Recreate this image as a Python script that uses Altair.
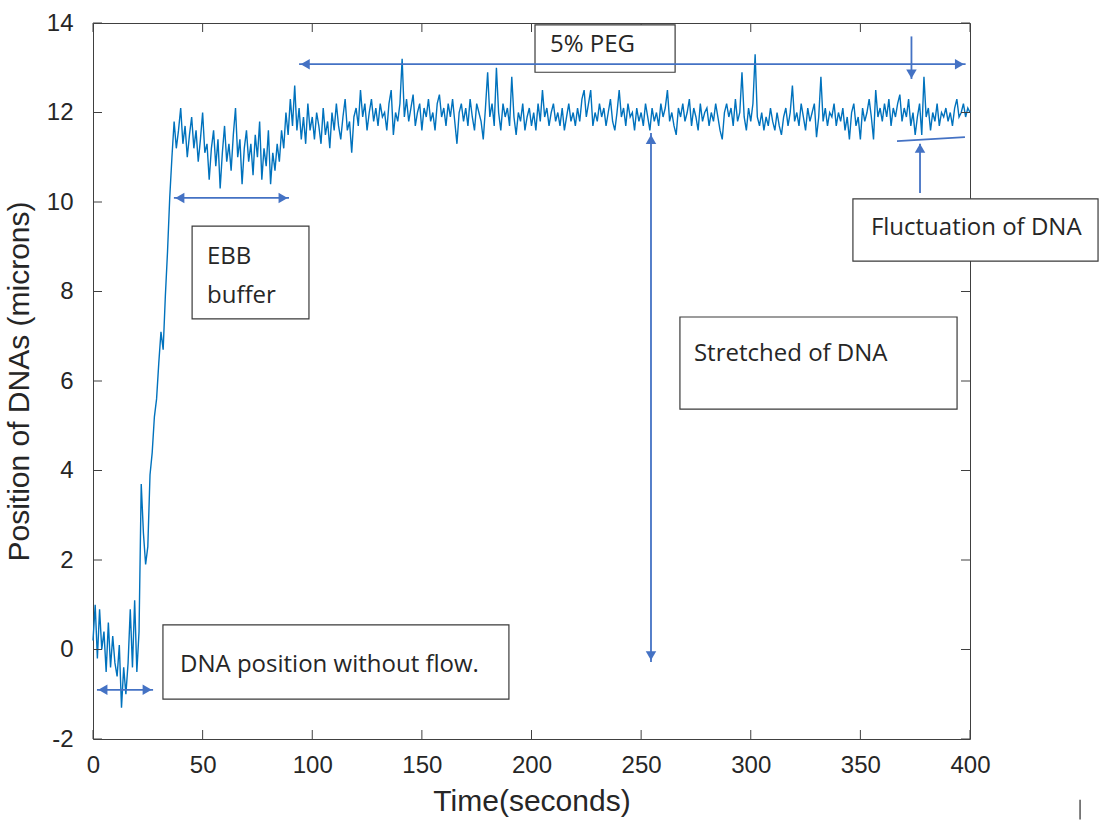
import altair as alt
import pandas as pd

# ---- data (1 sample per second) ----
times = list(range(0, 401))
pos = [
    # 0-21 no flow
    0.2, 1.0, -0.2, 0.9, 0.0, 0.4, -0.5, 0.6, -0.4, 0.3, -0.3, -0.6, 0.1, -1.3, -0.4, -1.0, -0.3, 0.9, -0.4, 1.1, -0.5, 0.4,
    # 22-37 ramp
    3.7, 2.6, 1.9, 2.3, 3.9, 4.4, 5.2, 5.6, 6.4, 7.1, 6.7, 7.9, 8.9, 10.1, 11.0, 11.8,
    # 38-91 EBB buffer
    11.2, 11.6, 12.1, 11.3, 11.7, 11.0, 11.5, 11.9, 11.2, 11.6,
    10.9, 11.4, 12.0, 11.1, 11.3, 10.5, 11.2, 11.6, 10.8, 11.4,
    10.3, 11.1, 11.7, 10.9, 11.3, 10.7, 11.5, 12.1, 11.0, 11.4,
    10.4, 11.2, 11.6, 10.9, 11.3, 10.6, 11.5, 11.0, 11.8, 10.5,
    11.2, 10.8, 11.6, 10.4, 11.1, 10.7, 11.3, 10.9, 11.6, 11.2,
    12.0, 11.5, 12.3, 11.7,
    # 92-99
    12.6, 11.6, 12.1, 11.4, 11.9, 11.3, 12.2, 11.6,
    # 100-399
    11.9, 11.4, 12.0, 11.7, 11.3, 12.1, 11.5, 11.8, 11.2, 12.0,
    11.6, 12.2, 11.7, 11.4, 11.9, 12.3, 11.6, 11.8, 11.1, 11.9,
    12.1, 11.7, 12.5, 11.9, 12.2, 11.6, 12.0, 12.3, 11.8, 12.1,
    11.7, 12.2, 11.9, 12.0, 11.6, 12.2, 12.5, 11.5, 12.0, 11.8,
    12.2, 13.2, 11.9, 12.3, 11.8, 12.1, 12.4, 11.7, 12.0, 12.2,
    11.6, 12.1, 11.9, 12.3, 11.8, 12.0, 11.6, 12.2, 12.4, 11.9,
    12.1, 11.7, 12.2, 11.9, 12.3, 11.8, 11.3, 12.0, 12.2, 11.8,
    12.1, 11.7, 12.3, 11.9, 11.6, 12.2, 12.0, 11.8, 11.4, 12.1,
    12.9, 11.9, 12.2, 11.7, 13.0, 12.0, 11.6, 12.2, 11.9, 12.1,
    11.7, 12.8, 11.9, 11.5, 12.0, 11.8, 12.2, 11.6, 11.9, 12.1,
    11.7, 12.0, 11.6, 12.2, 11.8, 12.5, 11.9, 12.1, 11.7, 12.0,
    12.2, 11.8, 12.0, 11.7, 12.1, 11.6, 11.9, 12.2, 11.8, 12.0,
    11.7, 12.1, 11.8, 12.3, 12.5, 11.9, 12.2, 12.5, 11.7, 12.0,
    11.8, 12.2, 11.9, 12.1, 11.7, 12.0, 12.3, 11.8, 11.6, 12.0,
    12.5, 11.9, 12.1, 11.7, 12.2, 11.9, 12.0, 11.6, 12.1, 11.8,
    12.0, 11.7, 12.2, 11.9, 11.6, 12.1, 11.8, 12.0, 11.7, 12.2,
    11.9, 12.1, 12.5, 11.8, 12.0, 11.7, 11.5, 12.1, 11.9, 12.2,
    11.8, 12.0, 12.3, 11.7, 12.1, 11.9, 11.6, 12.2, 11.8, 12.0,
    12.1, 11.7, 12.0, 11.8, 12.2, 11.9, 11.6, 11.4, 12.0, 12.2,
    11.9, 12.1, 11.7, 12.3, 11.8, 12.0, 12.9, 11.9, 11.6, 12.1,
    11.8, 12.2, 13.3, 11.9, 11.7, 12.0, 11.6, 11.9, 11.7, 12.1,
    11.8, 11.6, 12.0, 11.7, 11.5, 11.9, 12.1, 11.7, 12.0, 12.6,
    11.8, 12.0, 11.7, 12.2, 11.9, 11.6, 12.1, 11.8, 12.0, 12.2,
    11.45, 11.9, 12.8, 11.8, 12.1, 11.7, 12.0, 11.9, 12.2, 11.7,
    12.0, 11.8, 12.1, 11.6, 11.9, 11.4, 12.0, 12.2, 11.7, 11.9,
    11.4, 12.1, 11.8, 12.0, 12.3, 11.9, 11.4, 12.5, 11.9, 12.1,
    11.8, 12.2, 11.9, 12.3, 11.7, 12.1, 11.9, 12.2, 12.4, 11.8,
    12.1, 11.9, 12.3, 11.7, 12.0, 11.5, 11.9, 12.2, 11.5, 12.8,
    11.9, 12.1, 11.6, 12.0, 11.8, 12.2, 11.7, 12.0, 11.9, 12.1,
    11.8, 12.0, 11.7, 12.1, 12.3, 11.9, 12.0, 12.2, 11.9, 12.1,
    # 400
    12.0,
]
assert len(pos) == len(times), len(pos)

x_ticks = [0, 50, 100, 150, 200, 250, 300, 350, 400]
y_ticks = [-2, 0, 2, 4, 6, 8, 10, 12, 14]

# annotation boxes (data coordinates)
box_x1 = [201.6, 346.6, 267.7, 45.2, 31.9]
box_x2 = [265.5, 458.4, 394.1, 98.5, 189.7]
box_y1 = [13.96, 10.07, 7.43, 9.46, 0.55]
box_y2 = [12.90, 8.68, 5.37, 7.39, -1.11]

label_text = ["5% PEG", "Fluctuation of DNA", "Stretched of DNA", "EBB", "buffer", "DNA position without flow."]
label_x = [208.4, 354.8, 274.1, 52.0, 52.0, 39.7]
label_y = [13.51, 9.42, 6.60, 8.77, 7.90, -0.35]

# arrow shafts
seg_x1 = [94.0, 373.3, 366.7, 377.2, 254.5, 36.9, 1.8]
seg_x2 = [398.0, 373.3, 397.7, 377.2, 254.5, 89.4, 27.4]
seg_y1 = [13.08, 13.70, 11.36, 10.20, 11.54, 10.09, -0.90]
seg_y2 = [13.08, 12.75, 11.45, 11.30, -0.28, 10.09, -0.90]

# arrow heads
head_x = [96.8, 395.2, 373.3, 377.2, 254.5, 254.5, 39.6, 86.7, 4.5, 24.7]
head_y = [13.08, 13.08, 12.86, 11.20, 11.40, -0.14, 10.09, 10.09, -0.90, -0.90]
head_shape = ["triangle-left", "triangle-right", "triangle-down", "triangle-up", "triangle-up",
              "triangle-down", "triangle-left", "triangle-right", "triangle-left", "triangle-right"]

# stray mark at the bottom right of the picture
stray_x = [450.2]
stray_y1 = [-3.36]
stray_y2 = [-3.80]

df = pd.DataFrame({"t": times, "p": pos})
boxes = pd.DataFrame({"x1": box_x1, "x2": box_x2, "y1": box_y1, "y2": box_y2})
labels = pd.DataFrame({"x": label_x, "y": label_y, "text": label_text})
segs = pd.DataFrame({"x1": seg_x1, "x2": seg_x2, "y1": seg_y1, "y2": seg_y2})
heads = pd.DataFrame({"x": head_x, "y": head_y, "shape": head_shape})
stray = pd.DataFrame({"x": stray_x, "y1": stray_y1, "y2": stray_y2})
xt = pd.DataFrame({"t": x_ticks})
yt = pd.DataFrame({"v": y_ticks})

W, H = 877, 716
xs = alt.Scale(domain=[0, 400], nice=False, zero=False)
ys = alt.Scale(domain=[-2, 14], nice=False, zero=False)

axis_common = dict(grid=False, domain=False, ticks=False, tickSize=0, labelFlush=False,
                   labelExpr="datum.value",
                   labelFont="Liberation Sans", labelFontSize=24, labelColor="#262626",
                   titleFont="Liberation Sans", titleFontSize=30, titleColor="#262626",
                   titleFontWeight="normal")

line = alt.Chart(df).mark_line(color="#0072BD", strokeWidth=1.4, clip=False).encode(
    x=alt.X("t:Q", scale=xs, title="Time(seconds)",
            axis=alt.Axis(values=x_ticks, labelPadding=14, titlePadding=9, **axis_common)),
    y=alt.Y("p:Q", scale=ys, title="Position of DNAs (microns)",
            axis=alt.Axis(values=y_ticks, labelPadding=20, titlePadding=12, **axis_common)),
)

tick_color = "#404040"
xb = alt.Chart(xt).mark_rule(color=tick_color, strokeWidth=1).encode(
    x=alt.X("t:Q", scale=xs), y=alt.value(H), y2=alt.value(H - 9))
xtp = alt.Chart(xt).mark_rule(color=tick_color, strokeWidth=1).encode(
    x=alt.X("t:Q", scale=xs), y=alt.value(0), y2=alt.value(9))
yl = alt.Chart(yt).mark_rule(color=tick_color, strokeWidth=1).encode(
    y=alt.Y("v:Q", scale=ys), x=alt.value(0), x2=alt.value(9))
yr = alt.Chart(yt).mark_rule(color=tick_color, strokeWidth=1).encode(
    y=alt.Y("v:Q", scale=ys), x=alt.value(W), x2=alt.value(W - 9))

box_layer = alt.Chart(boxes).mark_rect(fill="white", stroke="#3a3a3a", strokeWidth=1.2, clip=False).encode(
    x=alt.X("x1:Q", scale=xs), x2="x2:Q", y=alt.Y("y1:Q", scale=ys), y2="y2:Q")

text_layer = alt.Chart(labels).mark_text(align="left", baseline="middle", font="Open Sans",
                                         fontSize=24, color="#262626", clip=False).encode(
    x=alt.X("x:Q", scale=xs), y=alt.Y("y:Q", scale=ys), text="text:N")

arrow_color = "#4472C4"
seg_layer = alt.Chart(segs).mark_rule(color=arrow_color, strokeWidth=1.8, clip=False).encode(
    x=alt.X("x1:Q", scale=xs), x2="x2:Q", y=alt.Y("y1:Q", scale=ys), y2="y2:Q")

head_layer = alt.Chart(heads).mark_point(filled=True, color=arrow_color, size=110, opacity=1, clip=False).encode(
    x=alt.X("x:Q", scale=xs), y=alt.Y("y:Q", scale=ys), shape=alt.Shape("shape:N", scale=None))

stray_layer = alt.Chart(stray).mark_rule(color="#555555", strokeWidth=1.5, clip=False).encode(
    x=alt.X("x:Q", scale=xs), y=alt.Y("y1:Q", scale=ys), y2="y2:Q")

chart = alt.layer(line, xb, xtp, yl, yr, box_layer, text_layer, seg_layer, head_layer, stray_layer).properties(
    width=W, height=H,
    autosize=alt.AutoSizeParams(type="none"),
    padding={"left": 93, "top": 23, "right": 133, "bottom": 84},
    background="white",
).configure_view(stroke="#404040", strokeWidth=1)

chart.save("out.html", embed_options={"renderer": "svg", "actions": False})
